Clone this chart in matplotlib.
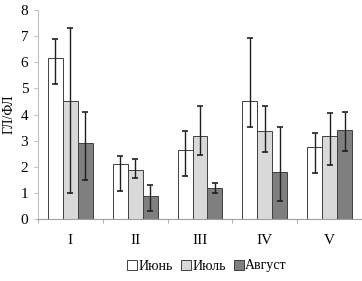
import numpy as np
import matplotlib.pyplot as plt

plt.rcParams['font.family'] = ['Liberation Serif', 'DejaVu Serif']

categories = ['I', 'II', 'III', 'IV', 'V']
series_names = ['Июнь', 'Июль', 'Август']

june = [6.18, 2.1, 2.65, 4.52, 2.77]
june_lo = [5.16, 1.08, 1.66, 3.51, 1.75]
june_hi = [6.88, 2.41, 3.37, 6.92, 3.28]

july = [4.52, 1.88, 3.17, 3.37, 3.17]
july_lo = [1.01, 1.56, 2.45, 2.55, 2.07]
july_hi = [7.31, 2.29, 4.34, 4.34, 4.07]

august = [2.9, 0.89, 1.17, 1.81, 3.41]
august_lo = [1.49, 0.31, 0.98, 0.70, 2.6]
august_hi = [4.09, 1.3, 1.37, 3.51, 4.1]

colors = ['white', '#d9d9d9', '#7f7f7f']

fig = plt.figure(figsize=(3.62, 2.81), dpi=100)
ax = fig.add_axes([38 / 362, 1 - 219 / 281, 324 / 362, 209 / 281])

x = np.arange(len(categories))
w = 0.23
data = [(june, june_lo, june_hi), (july, july_lo, july_hi), (august, august_lo, august_hi)]
for i, (vals, lo, hi) in enumerate(data):
    vals = np.array(vals)
    err = [vals - np.array(lo), np.array(hi) - vals]
    ax.bar(x + (i - 1) * w, vals, w, color=colors[i], edgecolor='#404040',
           linewidth=0.7, label=series_names[i], zorder=2)
    ax.errorbar(x + (i - 1) * w, vals, yerr=err, fmt='none', ecolor='#202020',
                elinewidth=1.0, capsize=2.5, capthick=1.2, zorder=3)

ax.set_xlim(-0.5, len(categories) - 0.5)
ax.set_ylim(0, 8)
ax.set_yticks(range(0, 9))
ax.set_xticks(x)
ax.set_xticklabels(categories)
ax.set_xticks(np.arange(-0.5, len(categories)), minor=True)
ax.tick_params(axis='x', which='major', length=0, labelsize=11, pad=11)
ax.tick_params(axis='x', which='minor', length=3, color='#a0a0a0')
ax.tick_params(axis='y', labelsize=11, length=3, color='#c0c0c0', pad=4)
ax.spines['top'].set_visible(False)
ax.spines['right'].set_visible(False)
ax.spines['left'].set_color('#c0c0c0')
ax.spines['bottom'].set_color('#a0a0a0')
ax.set_ylabel('ГЛ/ФЛ', fontsize=10, labelpad=4)

fig.legend(loc='center', bbox_to_anchor=(207 / 362, 1 - 266 / 281), ncol=3,
           frameon=False, fontsize=10, handlelength=0.7, handleheight=0.7,
           handletextpad=0.1, columnspacing=0.6)

fig.savefig('out.png', dpi=100)
